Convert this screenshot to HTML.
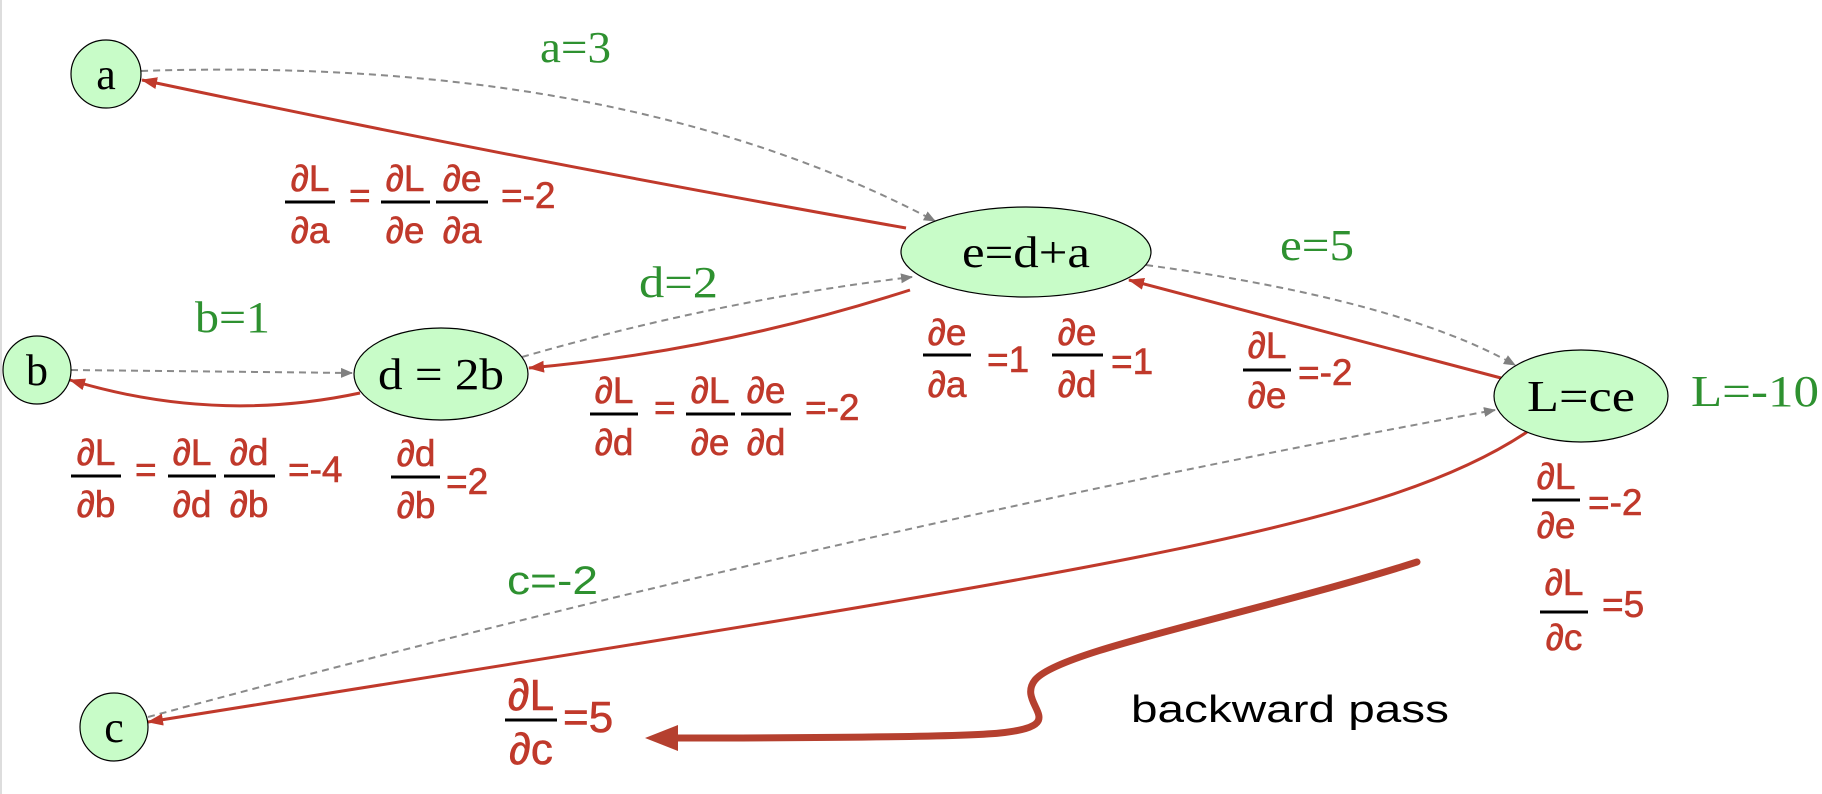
<!DOCTYPE html>
<html><head><meta charset="utf-8"><style>
html,body{margin:0;padding:0;background:#fff;}
svg{display:block;}
.g{fill:#2e9130;font-family:"Liberation Serif",serif;font-size:44px;}
.n{fill:#000;font-family:"Liberation Serif",serif;font-size:44px;text-anchor:middle;}
.r{fill:#c0392b;stroke:#c0392b;stroke-width:0.6;font-family:"Liberation Sans",sans-serif;font-size:37px;}
.rm{fill:#c0392b;stroke:#c0392b;stroke-width:0.6;font-family:"Liberation Sans",sans-serif;font-size:37px;text-anchor:middle;}
.bar{stroke:#000;stroke-width:3;}
</style></head><body>
<svg width="1822" height="794" viewBox="0 0 1822 794" xmlns="http://www.w3.org/2000/svg">
<defs>
<marker id="ra" markerWidth="16" markerHeight="12" refX="15" refY="6" orient="auto" markerUnits="userSpaceOnUse"><path d="M0,0 L16,6 L0,12 z" fill="#c0392b"/></marker>
<marker id="ga" markerWidth="12" markerHeight="10" refX="11" refY="5" orient="auto" markerUnits="userSpaceOnUse"><path d="M0,0 L12,5 L0,10 z" fill="#808080"/></marker>
</defs>
<rect x="0" y="0" width="2" height="794" fill="#ddd"/>
<!-- forward dashed -->
<g fill="none" stroke="#8a8a8a" stroke-width="2" stroke-dasharray="7,5" marker-end="url(#ga)">
<path d="M141,71 Q620,55 935,221"/>
<path d="M71,370 L352,373"/>
<path d="M522,357 Q720,300 912,277"/>
<path d="M1146,265 Q1400,300 1515,365"/>
<path d="M148,717 Q840,530 1495,410"/>
</g>
<!-- backward red -->
<g fill="none" stroke="#c0392b" stroke-width="3" marker-end="url(#ra)">
<path d="M906,228 Q520,160 142,80"/>
<path d="M910,290 Q720,351 529,368"/>
<path d="M360,393 Q215,424 70,380"/>
<path d="M1501,378 L1129,280"/>
<path d="M1527,432 C1380,530 1100,570 148,722"/>
</g>
<!-- backward pass arrow -->
<path d="M1417,562 C1250,615 1060,650 1035,680 C1015,705 1075,725 1000,733 C960,737 800,738 672,738" fill="none" stroke="#b5402f" stroke-width="7" stroke-linecap="round"/>
<path d="M645,738 L678,725 L678,751 z" fill="#b5402f"/>
<text x="1131" y="722" font-family="Liberation Sans,sans-serif" font-size="38" textLength="318" lengthAdjust="spacingAndGlyphs" fill="#000">backward pass</text>
<!-- nodes -->
<g fill="#c8fcc8" stroke="#000" stroke-width="1.2">
<ellipse cx="106" cy="74" rx="35" ry="34"/>
<ellipse cx="37" cy="370" rx="34" ry="34"/>
<ellipse cx="441" cy="374" rx="87" ry="46"/>
<ellipse cx="1026" cy="252" rx="125" ry="45"/>
<ellipse cx="1581" cy="396" rx="87" ry="46"/>
<ellipse cx="114" cy="727" rx="34" ry="34"/>
</g>
<text class="n" x="106" y="89">a</text>
<text class="n" x="37" y="385">b</text>
<text class="n" x="441" y="389" textLength="126" lengthAdjust="spacingAndGlyphs">d = 2b</text>
<text class="n" x="1026" y="267" textLength="128" lengthAdjust="spacingAndGlyphs">e=d+a</text>
<text class="n" x="1581" y="411" textLength="108" lengthAdjust="spacingAndGlyphs">L=ce</text>
<text class="n" x="114" y="742">c</text>
<!-- green values -->
<text class="g" x="540" y="62" textLength="71" lengthAdjust="spacingAndGlyphs">a=3</text>
<text class="g" x="195" y="332" textLength="75" lengthAdjust="spacingAndGlyphs">b=1</text>
<text class="g" x="639" y="297" textLength="79" lengthAdjust="spacingAndGlyphs">d=2</text>
<text class="g" x="1280" y="260" textLength="74" lengthAdjust="spacingAndGlyphs">e=5</text>
<text class="g" x="1691" y="406" textLength="128" lengthAdjust="spacingAndGlyphs">L=-10</text>
<text class="g" x="507" y="594" style="font-family:'Liberation Sans',sans-serif;font-size:40px" textLength="91" lengthAdjust="spacingAndGlyphs">c=-2</text>
<!-- dL/da chain: bar 202 -->
<g>
<text class="rm" x="310" y="191">∂L</text><line class="bar" x1="285" y1="202" x2="335" y2="202"/><text class="rm" x="310" y="243">∂a</text>
<text class="r" x="349" y="208">=</text>
<text class="rm" x="405" y="191">∂L</text><line class="bar" x1="381" y1="202" x2="430" y2="202"/><text class="rm" x="405" y="243">∂e</text>
<text class="rm" x="462" y="191">∂e</text><line class="bar" x1="436" y1="202" x2="488" y2="202"/><text class="rm" x="462" y="243">∂a</text>
<text class="r" x="501" y="208">=-2</text>
</g>
<!-- dL/dd chain: bar 414 -->
<g>
<text class="rm" x="614" y="403">∂L</text><line class="bar" x1="590" y1="414" x2="638" y2="414"/><text class="rm" x="614" y="455">∂d</text>
<text class="r" x="654" y="420">=</text>
<text class="rm" x="710" y="403">∂L</text><line class="bar" x1="686" y1="414" x2="735" y2="414"/><text class="rm" x="710" y="455">∂e</text>
<text class="rm" x="766" y="403">∂e</text><line class="bar" x1="741" y1="414" x2="791" y2="414"/><text class="rm" x="766" y="455">∂d</text>
<text class="r" x="805" y="420">=-2</text>
</g>
<!-- dL/db chain: bar 476 -->
<g>
<text class="rm" x="96" y="465">∂L</text><line class="bar" x1="71" y1="476" x2="121" y2="476"/><text class="rm" x="96" y="517">∂b</text>
<text class="r" x="135" y="482">=</text>
<text class="rm" x="192" y="465">∂L</text><line class="bar" x1="168" y1="476" x2="216" y2="476"/><text class="rm" x="192" y="517">∂d</text>
<text class="rm" x="249" y="465">∂d</text><line class="bar" x1="224" y1="476" x2="275" y2="476"/><text class="rm" x="249" y="517">∂b</text>
<text class="r" x="288" y="482">=-4</text>
</g>
<!-- dd/db=2 -->
<text class="rm" x="416" y="466">∂d</text><line class="bar" x1="391" y1="477" x2="440" y2="477"/><text class="rm" x="416" y="518">∂b</text>
<text class="r" x="446" y="494">=2</text>
<!-- de/da, de/dd -->
<text class="rm" x="947" y="345">∂e</text><line class="bar" x1="923" y1="355" x2="971" y2="355"/><text class="rm" x="947" y="397">∂a</text>
<text class="r" x="987" y="372">=1</text>
<text class="rm" x="1077" y="345">∂e</text><line class="bar" x1="1052" y1="355" x2="1103" y2="355"/><text class="rm" x="1077" y="397">∂d</text>
<text class="r" x="1111" y="374">=1</text>
<!-- dL/de middle -->
<text class="rm" x="1267" y="358">∂L</text><line class="bar" x1="1243" y1="370" x2="1291" y2="370"/><text class="rm" x="1267" y="408">∂e</text>
<text class="r" x="1298" y="385">=-2</text>
<!-- right side -->
<text class="rm" x="1556" y="489">∂L</text><line class="bar" x1="1532" y1="500" x2="1580" y2="500"/><text class="rm" x="1556" y="538">∂e</text>
<text class="r" x="1588" y="515">=-2</text>
<text class="rm" x="1564" y="595">∂L</text><line class="bar" x1="1540" y1="612" x2="1588" y2="612"/><text class="rm" x="1564" y="650">∂c</text>
<text class="r" x="1602" y="617">=5</text>
<!-- bottom dL/dc -->
<text class="rm" x="531" y="710" style="font-size:44px">∂L</text><line class="bar" x1="505" y1="720" x2="557" y2="720"/><text class="rm" x="531" y="764" style="font-size:44px">∂c</text>
<text class="r" x="563" y="732" style="font-size:44px">=5</text>
</svg>
</body></html>
